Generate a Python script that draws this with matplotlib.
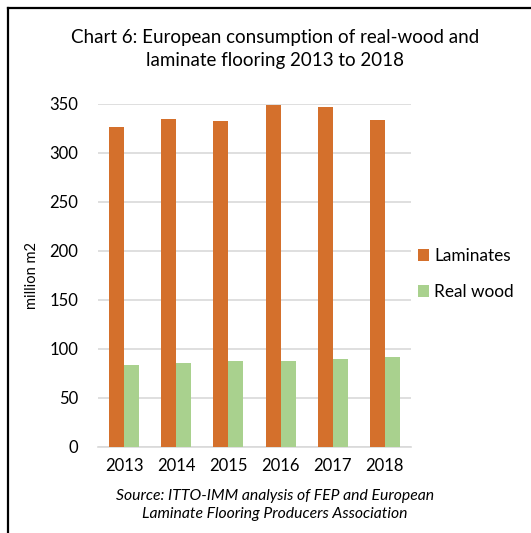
import matplotlib
matplotlib.use("Agg")
import matplotlib.pyplot as plt
import numpy as np
from matplotlib.lines import Line2D

years = ["2013", "2014", "2015", "2016", "2017", "2018"]
laminates = [327, 335, 333, 349, 347, 334]
real_wood = [83, 85, 87, 87, 89, 91]
yticks = [0, 50, 100, 150, 200, 250, 300, 350]

FONT = ["Lato", "DejaVu Sans"]
plt.rcParams["font.family"] = FONT

fig = plt.figure(figsize=(5.31, 5.33), dpi=100)
ax = fig.add_axes([98/531, 1 - 446.5/533, 313/531, 342.5/533])

x = np.arange(len(years))
w = 0.287
ax.bar(x - w/2, laminates, w, color="#D4702C", label="Laminates", zorder=3)
ax.bar(x + w/2, real_wood, w, color="#A9D18E", label="Real wood", zorder=3)

ax.set_xlim(-0.5, len(years) - 0.5)
ax.set_ylim(0, 350)
ax.set_yticks(yticks)
ax.set_xticks(x)
ax.set_xticklabels(years)
ax.grid(axis="y", color="#D9D9D9", linewidth=1.2, zorder=0)
for s in ["top", "right", "left"]:
    ax.spines[s].set_visible(False)
ax.spines["bottom"].set_color("#D9D9D9")
ax.spines["bottom"].set_linewidth(1.2)
ax.tick_params(axis="both", length=0, labelsize=12, colors="#000000")
ax.tick_params(axis="y", pad=14)
ax.tick_params(axis="x", pad=8)
ax.set_ylabel("million m2", fontsize=10.5, labelpad=8)

fig.text(275/531, 1 - 49/533,
         "Chart 6: European consumption of real-wood and\nlaminate flooring 2013 to 2018",
         ha="center", va="center", fontsize=13.5, linespacing=1.45)

fig.legend(loc="center left", bbox_to_anchor=(418/531, 1 - 274/533),
           frameon=False, fontsize=12.4, handlelength=0.65, handleheight=0.65,
           handletextpad=0.3, labelspacing=1.15, borderpad=0, borderaxespad=0)

fig.text(275/531, 1 - 505/533,
         "Source: ITTO-IMM analysis of FEP and European\nLaminate Flooring Producers Association",
         ha="center", va="center", fontsize=11.3, style="italic", linespacing=1.3)

fig.add_artist(Line2D([8/531, 8/531], [0, 1 - 8/533], transform=fig.transFigure,
                      color="black", linewidth=1.6))
fig.add_artist(Line2D([8/531, 1], [1 - 8/533, 1 - 8/533], transform=fig.transFigure,
                      color="black", linewidth=1.6))

fig.savefig("out.png", dpi=100)
